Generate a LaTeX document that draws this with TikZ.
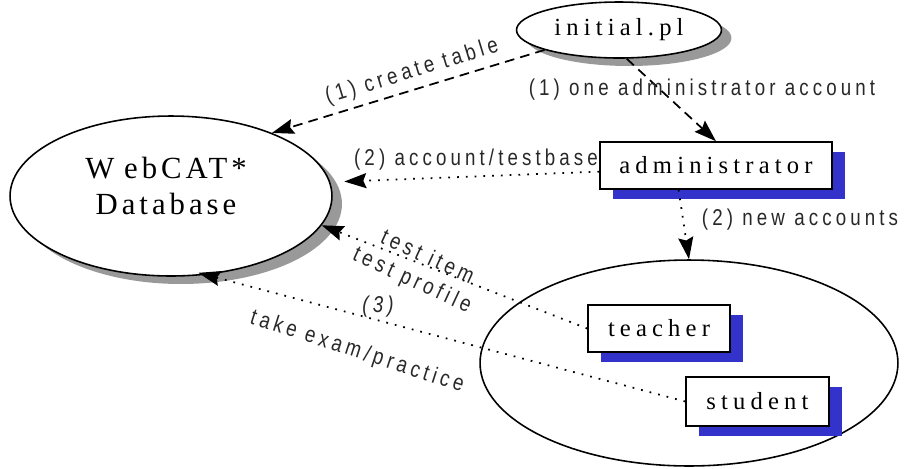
\documentclass[tikz,border=0pt]{standalone}
\usepackage{fontspec}
\usetikzlibrary{shapes.geometric,arrows.meta,shadows}
\newfontfamily\nodefont[LetterSpace=21]{Liberation Serif}
\newfontfamily\dbfont[LetterSpace=13]{Liberation Serif}
\newfontfamily\lblfont[LetterSpace=18,FakeStretch=0.82]{Liberation Sans}
\definecolor{shadegray}{RGB}{153,153,153}
\definecolor{shadeblue}{RGB}{51,51,204}
\definecolor{lbltext}{RGB}{40,40,40}

\begin{document}
\begin{tikzpicture}[
  x=0.02cm, y=-0.02cm,
  store/.style={ellipse, draw, line width=0.9pt, fill=white, inner sep=0pt,
    drop shadow={shadow xshift=0.2cm, shadow yshift=-0.16cm, fill=shadegray, opacity=1}},
  group/.style={ellipse, draw, line width=0.9pt, inner sep=0pt},
  role/.style={draw, line width=0.9pt, fill=white, inner sep=0pt,
    font=\nodefont\fontsize{14}{16}\selectfont,
    drop shadow={shadow xshift=0.26cm, shadow yshift=-0.2cm, fill=shadeblue, opacity=1}},
  dasharrow/.style={-{Stealth[length=0.44cm, width=0.3cm, inset=0.06cm]},
    line width=1pt, dash pattern=on 5.5pt off 3.5pt},
  dotarrow/.style={-{Stealth[length=0.44cm, width=0.3cm, inset=0.06cm]},
    line width=1pt, dash pattern=on 1pt off 4pt},
  lbl/.style={font=\lblfont\fontsize{13}{15}\selectfont, text=lbltext, inner sep=0pt}
]
\useasboundingbox (0,0) rectangle (904,468);

% stores
\node[store, minimum width=6.44cm, minimum height=3.2cm] (db) at (171,196) {};
\node[align=center, inner sep=0pt, font=\dbfont\fontsize{17.5}{21}\selectfont]
  (dbname) at (166,186) {W\kern0.32em ebCAT*\\Database};
\node[store, minimum width=4.1cm, minimum height=1.12cm,
  font=\nodefont\fontsize{14}{16}\selectfont] (init) at (619,30) {initial.pl};

% accounts
\node[group, minimum width=8.36cm, minimum height=4.12cm] (users) at (689,363) {};
\node[role, minimum width=4.64cm, minimum height=0.94cm] (admin) at (716,165.5) {administrator};
\node[role, minimum width=2.84cm, minimum height=0.94cm] (teacher) at (659,328.5) {teacher};
\node[role, minimum width=2.86cm, minimum height=0.98cm] (student) at (757.5,401.5) {student};

% step (1)
\draw[dasharrow] (init.195) -- (db.32);
\draw[dasharrow] (init.-75) -- (admin.north);

% step (2)
\draw[dotarrow, shorten >=0.28cm] (admin.-177) -- (db.5);
\draw[dotarrow] (admin.-147) -- (users.north);

% step (3)
\draw[dotarrow] (teacher.west) -- (db.-11);
\draw[dotarrow, shorten >=-0.16cm] (student.west) -- (db.-66);

% labels
\node[lbl, rotate=17] (lcreate) at (412,72) {(1) create table};
\node[lbl] (lone) at (702,90) {(1) one administrator account};
\node[lbl] (lacct) at (476,160) {(2) account/testbase};
\node[lbl] (lnew) at (800,220) {(2) new accounts};
\node[lbl, rotate=-25] (litem) at (428,256) {test item};
\node[lbl, rotate=-25] (lprofile) at (412,281) {test profile};
\node[lbl, font=\lblfont\itshape\fontsize{13}{15}\selectfont] (lthree) at (378,307) {(3)};
\node[lbl, rotate=-18] (lexam) at (357,352) {take exam/practice};
\end{tikzpicture}
\end{document}
